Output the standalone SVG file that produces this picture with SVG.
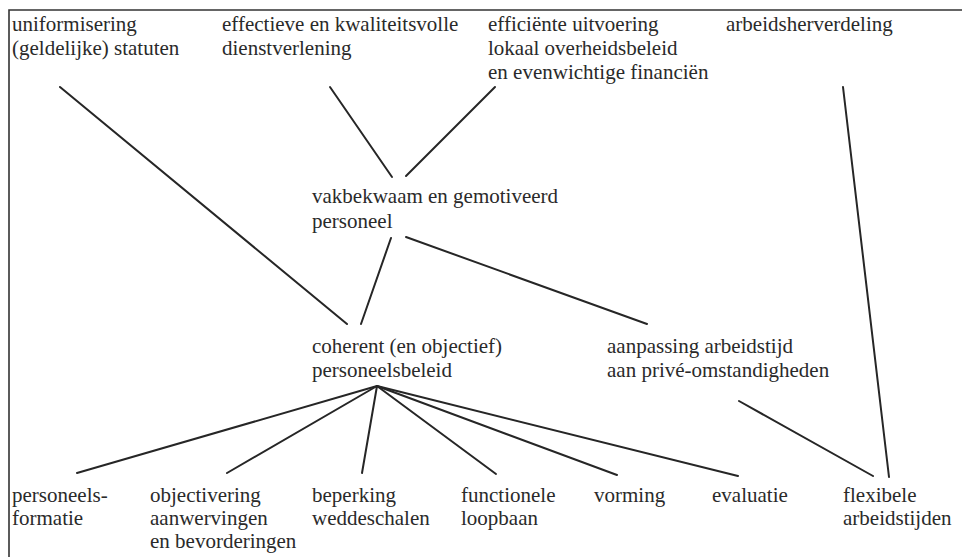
<svg xmlns="http://www.w3.org/2000/svg" width="962" height="557" viewBox="0 0 962 557">
<style>
.c line{stroke:#262626;stroke-width:2;stroke-linecap:round}
.frame{stroke:#333;stroke-width:1.6;fill:none}
</style>
<rect width="962" height="557" fill="#fff"/>
<path class="frame" d="M9,557 V10 H962"/>
<g font-family="'Liberation Serif', 'Times New Roman', Times, serif" font-size="21" fill="#2a2a2a">
<g id="n_uniform"><text x="12" y="31">uniformisering</text><text x="12" y="55">(geldelijke) statuten</text></g>
<g id="n_effectief"><text x="222" y="31">effectieve en kwaliteitsvolle</text><text x="222" y="55">dienstverlening</text></g>
<g id="n_efficient"><text x="488" y="31">efficiënte uitvoering</text><text x="488" y="55">lokaal overheidsbeleid</text><text x="488" y="79">en evenwichtige financiën</text></g>
<g id="n_arbeidsherverdeling"><text x="726" y="31">arbeidsherverdeling</text></g>
<g id="n_vakbekwaam"><text x="312" y="203">vakbekwaam en gemotiveerd</text><text x="312" y="228">personeel</text></g>
<g id="n_coherent"><text x="312" y="353">coherent (en objectief)</text><text x="312" y="377">personeelsbeleid</text></g>
<g id="n_aanpassing"><text x="607" y="353">aanpassing arbeidstijd</text><text x="607" y="377">aan privé-omstandigheden</text></g>
<g id="n_formatie"><text x="12" y="502">personeels-</text><text x="12" y="525">formatie</text></g>
<g id="n_objectivering"><text x="150" y="502">objectivering</text><text x="150" y="525">aanwervingen</text><text x="150" y="548">en bevorderingen</text></g>
<g id="n_beperking"><text x="312" y="502">beperking</text><text x="312" y="525">weddeschalen</text></g>
<g id="n_functionele"><text x="461" y="502">functionele</text><text x="461" y="525">loopbaan</text></g>
<g id="n_vorming"><text x="594" y="502">vorming</text></g>
<g id="n_evaluatie"><text x="712" y="502">evaluatie</text></g>
<g id="n_flexibele"><text x="843" y="502">flexibele</text><text x="843" y="525">arbeidstijden</text></g>
</g>
<g id="connectors" class="c">
<line x1="60" y1="87" x2="347" y2="324"/>
<line x1="330" y1="87" x2="392" y2="177"/>
<line x1="495" y1="87" x2="406" y2="176"/>
<line x1="843" y1="87" x2="889" y2="477"/>
<line x1="391" y1="238" x2="361" y2="324"/>
<line x1="406" y1="237" x2="647" y2="324"/>
<line x1="739" y1="401" x2="873" y2="476"/>
<line x1="377" y1="386" x2="77" y2="473"/>
<line x1="377" y1="386" x2="227" y2="473"/>
<line x1="377" y1="386" x2="362" y2="473"/>
<line x1="377" y1="386" x2="496" y2="474"/>
<line x1="377" y1="386" x2="617" y2="475"/>
<line x1="377" y1="386" x2="738" y2="476"/>
</g>
</svg>
